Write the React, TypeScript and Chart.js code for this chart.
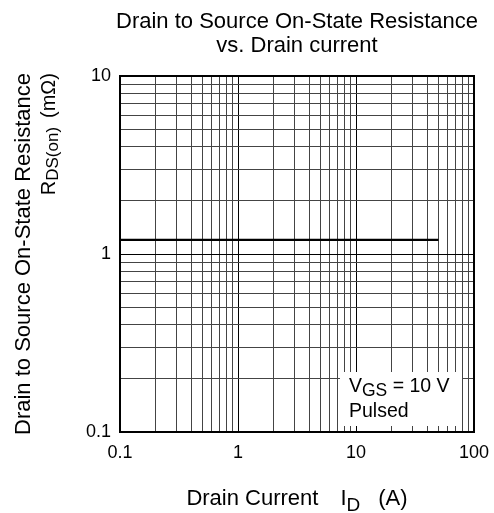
import React, { useEffect, useRef } from 'react';
import { Chart, registerables } from 'chart.js';

Chart.register(...registerables);

// ---- data ----
const xDecades = [0.1, 1, 10, 100];
const yDecades = [0.1, 1, 10];
const xTickLabels = ['0.1', '1', '10', '100'];
const yTickLabels = ['0.1', '1', '10'];
const minorSteps = [2, 3, 4, 5, 6, 7, 8, 9];
const drainCurrentA = [0.1, 50];
const rdsOnMilliOhm = [1.2, 1.2];

const titleLines = ['Drain to Source On-State Resistance', 'vs. Drain current'];
const yTitleLine1 = 'Drain to Source On-State Resistance';
const legendLine2 = 'Pulsed';

const FONT = "'Liberation Sans', Arial, Helvetica, sans-serif";

function gridValues(decades: number[]): number[] {
  const out: number[] = [];
  decades.forEach((d, i) => {
    out.push(d);
    if (i < decades.length - 1) minorSteps.forEach((m) => out.push(+(d * m).toPrecision(3)));
  });
  return out;
}

function isDecade(v: number, decades: number[]) {
  return decades.some((d) => Math.abs(v - d) / d < 1e-6);
}

function labelFor(v: number, decades: number[], labels: string[]) {
  const i = decades.findIndex((d) => Math.abs(v - d) / d < 1e-6);
  return i >= 0 ? labels[i] : '';
}

type Seg = { t?: string; s?: number; dy?: number; gap?: number };

function segWidth(ctx: CanvasRenderingContext2D, segs: Seg[]) {
  let w = 0;
  segs.forEach((sg) => {
    if (sg.gap) w += sg.gap;
    else {
      ctx.font = `${sg.s}px ${FONT}`;
      w += ctx.measureText(sg.t || '').width;
    }
  });
  return w;
}

function drawSegs(ctx: CanvasRenderingContext2D, segs: Seg[], x: number, y: number) {
  ctx.textAlign = 'left';
  ctx.textBaseline = 'alphabetic';
  let cx = x;
  segs.forEach((sg) => {
    if (sg.gap) cx += sg.gap;
    else {
      ctx.font = `${sg.s}px ${FONT}`;
      ctx.fillText(sg.t || '', cx, y + (sg.dy || 0));
      cx += ctx.measureText(sg.t || '').width;
    }
  });
}

const overlay = {
  id: 'overlay',
  beforeDatasetsDraw(chart: any) {
    const { ctx, chartArea } = chart;
    const box = {
      left: chartArea.right - 134,
      right: chartArea.right - 12,
      top: chartArea.bottom - 60,
      bottom: chartArea.bottom - 6,
    };
    chart.$legendBox = box;
    ctx.save();
    ctx.fillStyle = '#fff';
    ctx.fillRect(box.left, box.top, box.right - box.left, box.bottom - box.top);
    ctx.restore();
  },
  afterDraw(chart: any) {
    const { ctx, chartArea } = chart;
    const cx = (chartArea.left + chartArea.right) / 2;
    const cy = (chartArea.top + chartArea.bottom) / 2;
    ctx.save();
    // frame
    ctx.strokeStyle = '#000';
    ctx.lineWidth = 2;
    ctx.strokeRect(chartArea.left, chartArea.top, chartArea.right - chartArea.left, chartArea.bottom - chartArea.top);

    ctx.fillStyle = '#000';
    // title
    ctx.font = `22px ${FONT}`;
    ctx.textAlign = 'center';
    ctx.textBaseline = 'alphabetic';
    ctx.fillText(titleLines[0], cx, 28);
    ctx.fillText(titleLines[1], cx, 52);

    // x axis title
    const xSegs: Seg[] = [
      { t: 'Drain Current', s: 22 },
      { gap: 22 },
      { t: 'I', s: 22 },
      { t: 'D', s: 19, dy: 6 },
      { gap: 18 },
      { t: '(A)', s: 22 },
    ];
    const xw = segWidth(ctx, xSegs);
    drawSegs(ctx, xSegs, cx - xw / 2, 505);

    // y axis title
    ctx.save();
    ctx.translate(30, cy);
    ctx.rotate(-Math.PI / 2);
    ctx.font = `22px ${FONT}`;
    ctx.textAlign = 'center';
    ctx.fillText(yTitleLine1, 0, 0);
    const w1 = ctx.measureText(yTitleLine1).width;
    ctx.restore();

    const ySegs: Seg[] = [
      { t: 'R', s: 20 },
      { t: 'DS(on)', s: 17, dy: 3 },
      { gap: 9 },
      { t: '(m\u03A9)', s: 20 },
    ];
    const yw = segWidth(ctx, ySegs);
    ctx.save();
    ctx.translate(55, cy);
    ctx.rotate(-Math.PI / 2);
    drawSegs(ctx, ySegs, w1 / 2 - yw, 0);
    ctx.restore();

    // legend text
    const box = chart.$legendBox;
    if (box) {
      drawSegs(ctx, [
        { t: 'V', s: 19.5 },
        { t: 'GS', s: 17.5, dy: 4 },
        { t: ' = 10 V', s: 19.5 },
      ], box.left + 9, box.top + 20);
      drawSegs(ctx, [{ t: legendLine2, s: 19.5 }], box.left + 9, box.top + 45);
    }
    ctx.restore();
  },
};

export default function App() {
  const ref = useRef<HTMLCanvasElement | null>(null);

  useEffect(() => {
    if (!ref.current) return;
    const xGrid = gridValues(xDecades);
    const yGrid = gridValues(yDecades);
    const points = drainCurrentA.map((x, i) => ({ x, y: rdsOnMilliOhm[i] }));

    const chart = new Chart(ref.current, {
      type: 'scatter',
      data: {
        datasets: [
          {
            data: points,
            showLine: true,
            borderColor: '#000',
            borderWidth: 2.2,
            pointRadius: 0,
            fill: false,
          } as any,
        ],
      },
      plugins: [overlay as any],
      options: {
        responsive: false,
        animation: false,
        layout: { padding: { top: 76, right: 20, left: 0, bottom: 0 } },
        plugins: {
          legend: { display: false },
          tooltip: { enabled: false },
          title: { display: false },
        },
        scales: {
          x: {
            type: 'logarithmic',
            min: 0.1,
            max: 100,
            afterBuildTicks: (s: any) => {
              s.ticks = xGrid.map((v) => ({ value: v }));
            },
            afterFit: (s: any) => {
              s.height = 81;
              s.paddingLeft = 0;
              s.paddingRight = 0;
            },
            ticks: {
              autoSkip: false,
              maxRotation: 0,
              minRotation: 0,
              padding: 10,
              color: '#000',
              font: { family: FONT, size: 18 },
              callback: (v: any) => labelFor(Number(v), xDecades, xTickLabels),
            },
            grid: {
              drawTicks: false,
              lineWidth: 1,
              color: (c: any) => (c.tick && isDecade(c.tick.value, xDecades) ? '#000' : '#444'),
            },
            border: { display: false },
          },
          y: {
            type: 'logarithmic',
            min: 0.1,
            max: 10,
            afterBuildTicks: (s: any) => {
              s.ticks = yGrid.map((v) => ({ value: v }));
            },
            afterFit: (s: any) => {
              s.width = 120;
              s.paddingTop = 0;
              s.paddingBottom = 0;
            },
            ticks: {
              autoSkip: false,
              padding: 9,
              color: '#000',
              font: { family: FONT, size: 18 },
              callback: (v: any) => labelFor(Number(v), yDecades, yTickLabels),
            },
            grid: {
              drawTicks: false,
              lineWidth: 1,
              color: (c: any) => (c.tick && isDecade(c.tick.value, yDecades) ? '#000' : '#444'),
            },
            border: { display: false },
          },
        },
      } as any,
    });
    return () => chart.destroy();
  }, []);

  return (
    <div style={{ position: 'fixed', left: 0, top: 0, width: 494, height: 513, background: '#fff' }}>
      <canvas ref={ref} width={494} height={513} style={{ display: 'block', width: 494, height: 513 }} />
    </div>
  );
}
